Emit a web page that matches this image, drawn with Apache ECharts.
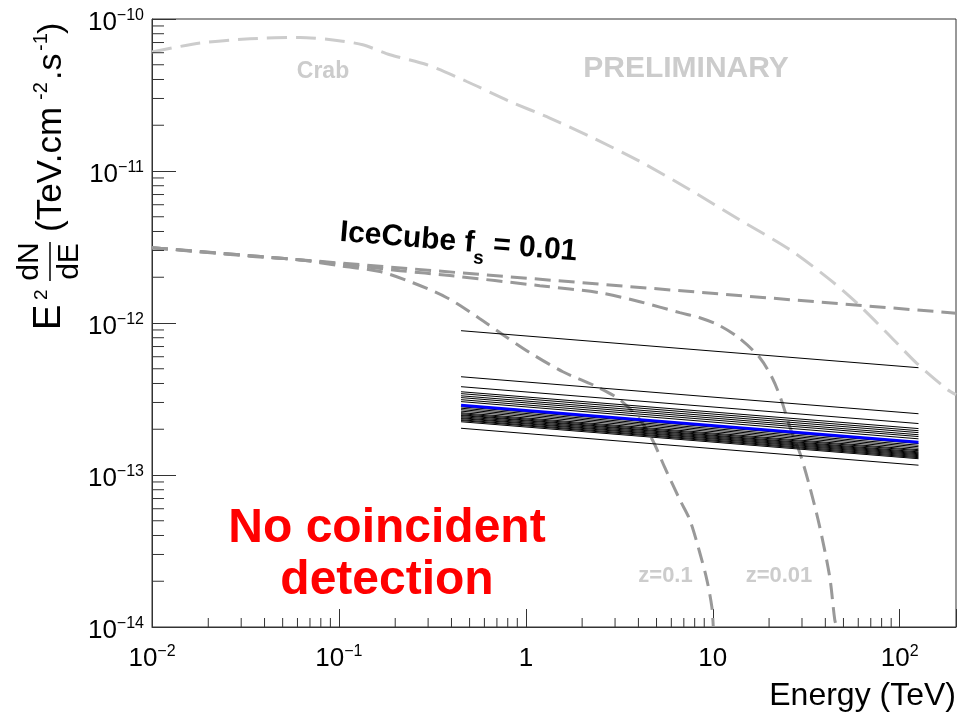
<!DOCTYPE html>
<html><head><meta charset="utf-8">
<script src="https://cdn.jsdelivr.net/npm/echarts@6/dist/echarts.min.js"></script>
<style>html,body{margin:0;padding:0;background:#fff}#c{width:968px;height:718px}</style>
</head><body><div id="c"></div>
<script>
// ---------- data ----------
const crabE = [0.01, 0.0181, 0.0334, 0.0618, 0.0976, 0.134, 0.1875, 0.296, 0.483, 0.821, 1.343, 2.198, 4.07, 7.54, 13.9, 25.8, 42.3, 58.9, 88.4, 123, 180.6, 200];
const crabF = [6.07e-11, 6.95e-11, 7.41e-11, 7.57e-11, 7.23e-11, 6.77e-11, 5.82e-11, 5.0e-11, 3.88e-11, 2.87e-11, 2.23e-11, 1.69e-11, 1.157e-11, 7.53e-12, 4.78e-12, 3.04e-12, 1.93e-12, 1.355e-12, 8.25e-13, 5.45e-13, 3.64e-13, 3.38e-13];

const iceE = [0.01, 200];
const iceF = [3.13e-12, 1.16e-12];

const z001E = [0.01, 0.0619, 0.212, 0.392, 1.188, 2.487, 4.07, 6.66, 8.52, 10.9, 13.94, 17.84, 20.9, 23.4, 25.8, 29.2, 33.0, 37.3, 42.2, 44.9, 46.0];
const z001F = [3.13e-12, 2.6e-12, 2.21e-12, 2.05e-12, 1.76e-12, 1.58e-12, 1.38e-12, 1.17e-12, 1.083e-12, 9.6e-13, 7.9e-13, 5.91e-13, 4.3e-13, 3.05e-13, 2.08e-13, 1.40e-13, 8.38e-14, 4.57e-14, 2.14e-14, 1.12e-14, 1.0e-14];

const z01E = [0.01, 0.0334, 0.0619, 0.1012, 0.1657, 0.2487, 0.378, 0.5675, 0.753, 1.05, 1.577, 2.397, 3.18, 4.07, 4.78, 5.54, 6.66, 7.53, 8.52, 9.29, 9.88, 10.06];
const z01F = [3.13e-12, 2.75e-12, 2.6e-12, 2.38e-12, 2.18e-12, 1.84e-12, 1.467e-12, 1.067e-12, 8.38e-13, 6.38e-13, 4.78e-13, 3.81e-13, 3.13e-13, 2.31e-13, 1.68e-13, 1.117e-13, 6.88e-14, 5.08e-14, 3.08e-14, 2.05e-14, 1.36e-14, 1.0e-14];

// individual sources: flux at lowest and highest energy
const srcE = [0.45, 126];
const srcLow  = [8.90e-13, 4.43e-13, 3.81e-13, 3.53e-13, 3.43e-13, 3.32e-13, 3.23e-13, 3.13e-13, 3.04e-13, 2.88e-13, 2.81e-13, 2.75e-13, 2.69e-13, 2.63e-13, 2.57e-13, 2.53e-13, 2.49e-13, 2.46e-13, 2.42e-13, 2.38e-13, 2.35e-13, 2.31e-13, 2.28e-13, 2.24e-13, 2.03e-13];
const srcHigh = [5.08e-13, 2.53e-13, 2.18e-13, 2.02e-13, 1.956e-13, 1.90e-13, 1.84e-13, 1.79e-13, 1.73e-13, 1.64e-13, 1.61e-13, 1.57e-13, 1.535e-13, 1.50e-13, 1.467e-13, 1.445e-13, 1.42e-13, 1.40e-13, 1.38e-13, 1.36e-13, 1.34e-13, 1.32e-13, 1.30e-13, 1.28e-13, 1.16e-13];
const blueIndex = 9;

// ticks
const xTickExp  = [-2, -1, 0, 1, 2];
const xTickBase = ['10', '10', '1', '10', '10'];
const xTickSup  = ['\u22122', '\u22121', '', '', '2'];
const yTickExp  = [-14, -13, -12, -11, -10];
const yTickBase = ['10', '10', '10', '10', '10'];
const yTickSup  = ['\u221214', '\u221213', '\u221212', '\u221211', '\u221210'];
const xMinorTicks = [0.02,0.03,0.04,0.05,0.06,0.07,0.08,0.09, 0.2,0.3,0.4,0.5,0.6,0.7,0.8,0.9, 2,3,4,5,6,7,8,9, 20,30,40,50,60,70,80,90];
const yMinorTicks = [2e-14,3e-14,4e-14,5e-14,6e-14,7e-14,8e-14,9e-14, 2e-13,3e-13,4e-13,5e-13,6e-13,7e-13,8e-13,9e-13, 2e-12,3e-12,4e-12,5e-12,6e-12,7e-12,8e-12,9e-12, 2e-11,3e-11,4e-11,5e-11,6e-11,7e-11,8e-11,9e-11];

// ---------- chart ----------
const FONT = "'Liberation Sans', Arial, Helvetica, sans-serif";
const X_MIN = 0.01, X_MAX = 200, Y_MIN = 1e-14, Y_MAX = 1e-10;
const pairs = (a, b) => a.map((v, i) => [v, b[i]]);

function tickFmt(exps, bases, sups) {
  return function (v) {
    const e = Math.log10(v), r = Math.round(e);
    if (Math.abs(e - r) > 1e-6) return '';
    const i = exps.indexOf(r);
    if (i < 0) return '';
    return sups[i] ? '{b|' + bases[i] + '}{s|' + sups[i] + '}' : '{b|' + bases[i] + '}';
  };
}
const tickRich = {
  b: {fontSize: 26, lineHeight: 30, fontFamily: FONT, color: '#000'},
  s: {fontSize: 16, lineHeight: 16, verticalAlign: 'top', fontFamily: FONT, color: '#000'}
};

const series = [];
series.push({type: 'line', name: 'Crab', data: pairs(crabE, crabF), symbol: 'none', smooth: 0.25,
  lineStyle: {color: '#cccccc', width: 3, type: [20, 9]}, z: 2, silent: true});
series.push({type: 'line', name: 'IceCube', data: pairs(iceE, iceF), symbol: 'none',
  lineStyle: {color: '#999999', width: 3, type: [16, 8]}, z: 2, silent: true});
series.push({type: 'line', name: 'z=0.01', data: pairs(z001E, z001F), symbol: 'none', smooth: 0.3,
  lineStyle: {color: '#999999', width: 3, type: [16, 8]}, z: 2, silent: true});
series.push({type: 'line', name: 'z=0.1', data: pairs(z01E, z01F), symbol: 'none', smooth: 0.3,
  lineStyle: {color: '#999999', width: 3, type: [16, 8]}, z: 2, silent: true});
srcLow.forEach((v, i) => {
  if (i === blueIndex) return;
  series.push({type: 'line', data: [[srcE[0], v], [srcE[1], srcHigh[i]]], symbol: 'none',
    lineStyle: {color: '#000', width: 1}, z: 3, silent: true});
});
series.push({type: 'line', data: [[srcE[0], srcLow[blueIndex]], [srcE[1], srcHigh[blueIndex]]], symbol: 'none',
  lineStyle: {color: '#0000ff', width: 3}, z: 4, silent: true});

// minor ticks (2..9 x 10^n)
series.push({type: 'custom', silent: true, z: 5, data: xMinorTicks.map(v => [v, Y_MIN]),
  renderItem: (p, api) => { const c = api.coord([api.value(0), Y_MIN]);
    return {type: 'line', shape: {x1: c[0], y1: c[1], x2: c[0], y2: c[1] - 9}, style: {stroke: '#333', lineWidth: 1}}; }});
series.push({type: 'custom', silent: true, z: 5, data: yMinorTicks.map(v => [X_MIN, v]),
  renderItem: (p, api) => { const c = api.coord([X_MIN, api.value(1)]);
    return {type: 'line', shape: {x1: c[0], y1: c[1], x2: c[0] + 12, y2: c[1]}, style: {stroke: '#333', lineWidth: 1}}; }});

const gText = (x, y, text, size, color, weight, align) => ({type: 'text', x: x, y: y, z: 10,
  style: {text: text, fontSize: size, fontWeight: weight || 'normal', fontFamily: FONT, fill: color || '#000',
    align: align || 'center', verticalAlign: 'middle'}});
const tStyle = (text, size, align) => ({text: text, fontSize: size, fontFamily: FONT, fill: '#000', align: align || 'left', verticalAlign: 'middle'});

const option = {
  animation: false,
  backgroundColor: '#ffffff',
  textStyle: {fontFamily: FONT},
  grid: {left: 152, right: 12, top: 19, bottom: 91, show: true, borderColor: '#333', borderWidth: 1,
    backgroundColor: 'transparent', containLabel: false, outerBoundsMode: 'none'},
  xAxis: {type: 'log', logBase: 10, min: X_MIN, max: X_MAX,
    axisLine: {show: true, onZero: false, lineStyle: {color: '#333', width: 1}},
    axisTick: {show: true, inside: true, length: 18, lineStyle: {color: '#333', width: 1}},
    splitLine: {show: false},
    axisLabel: {margin: 17, formatter: tickFmt(xTickExp, xTickBase, xTickSup), rich: tickRich, showMinLabel: true, showMaxLabel: true}
  },
  yAxis: {type: 'log', logBase: 10, min: Y_MIN, max: Y_MAX,
    axisLine: {show: true, onZero: false, lineStyle: {color: '#333', width: 1}},
    axisTick: {show: true, inside: true, length: 24, lineStyle: {color: '#333', width: 1}},
    splitLine: {show: false},
    axisLabel: {margin: 8, padding: [8, 0, 0, 0], formatter: tickFmt(yTickExp, yTickBase, yTickSup), rich: tickRich, showMinLabel: true, showMaxLabel: true}
  },
  graphic: [
    gText(323, 72, 'Crab', 23, '#cccccc', 'bold'),
    gText(686, 69, 'PRELIMINARY', 30, '#cccccc', 'bold'),
    gText(665.5, 576, 'z=0.1', 22, '#cccccc', 'bold'),
    gText(779, 576, 'z=0.01', 22, '#cccccc', 'bold'),
    gText(956, 696, 'Energy (TeV)', 32, '#000', 'normal', 'right'),
    {type: 'text', x: 458.5, y: 242.3, rotation: -0.0824, z: 10,
      style: {text: '{a|IceCube f}{sub|s}{a| = 0.01}', fontFamily: FONT, align: 'center', verticalAlign: 'middle',
        rich: {a: {fontSize: 30, fontWeight: 'bold', lineHeight: 48, fontFamily: FONT, fill: '#000'},
               sub: {fontSize: 19, fontWeight: 'bold', lineHeight: 19, verticalAlign: 'bottom', fontFamily: FONT, fill: '#000'}}}},
    {type: 'text', x: 387, y: 555, z: 10,
      style: {text: 'No coincident\ndetection', fontSize: 48, lineHeight: 52, fontWeight: 'bold', fontFamily: FONT,
        fill: '#ff0000', align: 'center', verticalAlign: 'middle'}},
    {type: 'group', x: 63, y: 328, rotation: Math.PI / 2, z: 10, children: [
      {type: 'text', x: -2, y: -13.2, style: tStyle('E', 38)},
      {type: 'text', x: 28, y: -21.4, style: tStyle('2', 19)},
      {type: 'text', x: 66.5, y: -33.4, style: tStyle('dN', 30, 'center')},
      {type: 'line', shape: {x1: 47, y1: -13, x2: 86, y2: -13}, style: {stroke: '#000', lineWidth: 1.5}},
      {type: 'text', x: 66.5, y: 6.6, style: tStyle('dE', 30, 'center')},
      {type: 'text', x: 96, y: -11.8, style: tStyle('(TeV.cm', 35)},
      {type: 'text', x: 228, y: -21.9, style: tStyle('-2', 20)},
      {type: 'text', x: 248, y: -11.8, style: tStyle('.s', 34)},
      {type: 'text', x: 277, y: -21.9, style: tStyle('-1', 20)},
      {type: 'text', x: 294, y: -11.8, style: tStyle(')', 34)}
    ]}
  ],
  series: series
};

const chart = echarts.init(document.getElementById('c'), null, {renderer: 'canvas'});
chart.setOption(option);
</script>
</body></html>
